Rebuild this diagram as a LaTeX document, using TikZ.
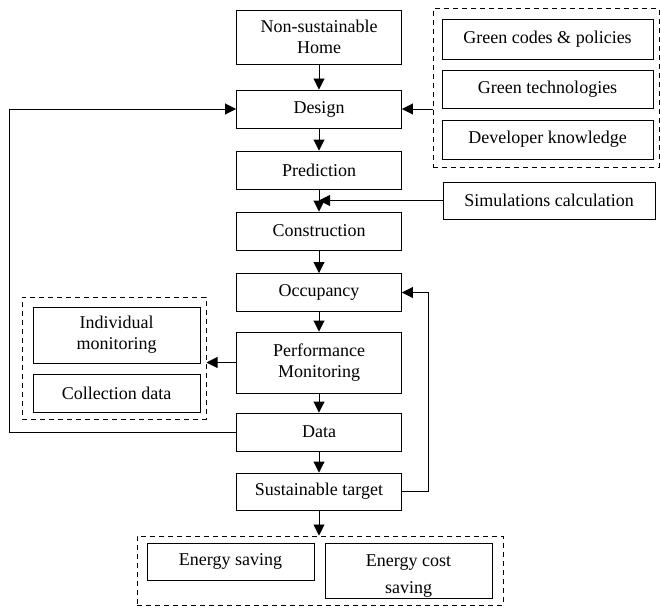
\documentclass[tikz,border=0pt]{standalone}
\usepackage{fontspec}
\setmainfont{Liberation Serif}
\usetikzlibrary{arrows.meta}
\begin{document}
\begin{tikzpicture}[x=1pt,y=-1pt,
  txt/.style={font=\fontsize{18}{21}\selectfont, align=center},
  box/.style={txt, draw, line width=0.9pt, inner sep=0pt},
  grp/.style={draw, line width=1pt, dash pattern=on 5pt off 4pt, inner sep=0pt},
  arr/.style={-{Triangle[length=11pt,width=11pt]}, line width=0.9pt},
  ln/.style={line width=0.9pt}]
\useasboundingbox (0,0) rectangle (660,607);

% main column
\node[box, minimum width=165pt, minimum height=54pt] (nsh) at (319,37) {Non-sustainable\\Home};
\node[box, minimum width=165pt, minimum height=38pt] (design) at (319,109) {Design};
\node[box, minimum width=165pt, minimum height=38pt] (pred) at (319,170) {Prediction};
\node[box, minimum width=165pt, minimum height=38pt] (constr) at (319,231) {Construction};
\node[box, minimum width=165pt, minimum height=38pt] (occ) at (319,292.5) {Occupancy};
\node[box, minimum width=165pt, minimum height=61pt] (pm) at (319,362.5) {Performance\\Monitoring};
\node[box, minimum width=165pt, minimum height=38pt] (data) at (319,432) {Data};
\node[box, minimum width=165pt, minimum height=37pt] (st) at (319,491.5) {Sustainable target};

% right group
\node[grp, minimum width=226pt, minimum height=158pt] (rg) at (546,88) {};
\node[box, minimum width=211pt, minimum height=40pt] (gcp) at (547.5,39) {Green codes \& policies};
\node[box, minimum width=211pt, minimum height=38pt] (gt) at (547.5,89) {Green technologies};
\node[box, minimum width=211pt, minimum height=39pt] (dk) at (547.5,139.5) {Developer knowledge};

% simulations
\node[box, minimum width=212pt, minimum height=37pt] (sim) at (549,200.5) {Simulations calculation};

% left group
\node[grp, minimum width=184pt, minimum height=122pt] (lg) at (114,358) {};
\node[box, minimum width=167pt, minimum height=56pt] (im) at (116.5,335) {Individual\\monitoring};
\node[box, minimum width=167pt, minimum height=38pt] (cd) at (116.5,393) {Collection data};

% bottom group
\node[grp, minimum width=366pt, minimum height=69pt] (bg) at (320,570.5) {};
\node[box, minimum width=167pt, minimum height=37pt] (es) at (230.5,561.5) {Energy saving};
\node[draw, line width=0.9pt, inner sep=0pt, minimum width=167pt, minimum height=55pt] (ecs) at (408.5,570.5) {};
\begin{scope}
  \clip (ecs.south west) rectangle (ecs.north east);
  \node[txt, inner sep=0pt, anchor=north] (ecst) at (408.5,555) {Energy cost\\[6pt]saving};
\end{scope}

% connectors
\draw[arr] (nsh) -- (design);
\draw[arr] (design) -- (pred);
\draw[arr] (pred) -- (constr);
\draw[arr] (constr) -- (occ);
\draw[arr] (occ) -- (pm);
\draw[arr] (pm) -- (data);
\draw[arr] (data) -- (st);
\draw[arr] (st.south) -- (bg.north -| st.south);
\draw[arr] (rg.west |- design.east) -- (design.east);
\draw[arr] (sim.west) -- (sim.west -| pred.south);
\draw[arr] (pm.west) -- (lg.east |- pm.west);
\coordinate (fb1) at (9,432);
\coordinate (fb2) at (9,109);
\draw[arr] (data.west) -- (fb1) -- (fb2) -- (design.west);
\coordinate (rt1) at (428,491.5);
\coordinate (rt2) at (428,292.5);
\draw[arr] (st.east) -- (rt1) -- (rt2) -- (occ.east);
\end{tikzpicture}
\end{document}
